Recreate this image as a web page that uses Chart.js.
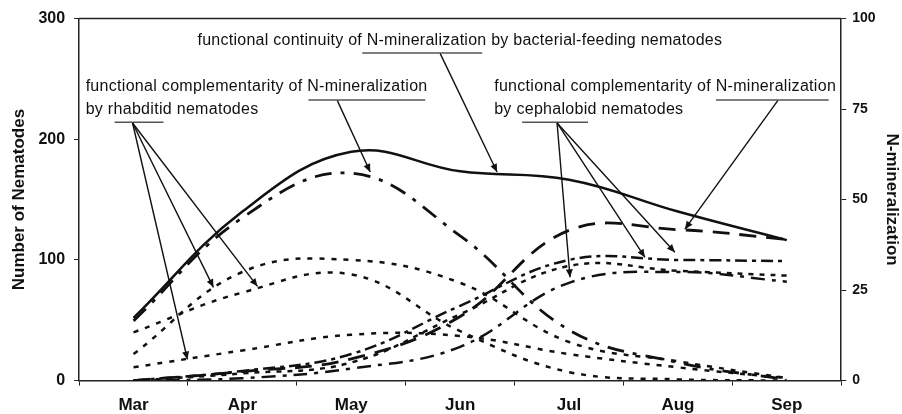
<!DOCTYPE html>
<html>
<head>
<meta charset="utf-8">
<script src="https://cdn.jsdelivr.net/npm/chart.js@4.4.1/dist/chart.umd.min.js"></script>
<style>
  html, body { margin: 0; padding: 0; background: #fff; }
  #wrap { width: 902px; height: 414px; position: relative; }
</style>
</head>
<body>
<div id="wrap"><canvas id="nemaChart"></canvas></div>
<script>
const months = ['Mar', 'Apr', 'May', 'Jun', 'Jul', 'Aug', 'Sep'];

// number of nematodes (left axis)
const rhabd1 = [22, 90, 100, 81, 32, 16, 2];
const rhabd2 = [40, 73, 88, 41, 7, 1, 0];
const rhabd3 = [11, 25, 38, 37, 22, 11, 2];
const cephal1 = [0, 8, 22, 62, 100, 100, 99];
const cephal2 = [0, 6, 15, 55, 95, 91, 87];
const cephal3 = [0, 2, 10, 28, 81, 90, 82];

// N-mineralization (right axis)
const nminTotal = [17.3, 46.7, 63.2, 57.8, 55.5, 46.7, 38.8];
const nminRhabd = [16.5, 45, 57.3, 40, 14, 5, 0.3];
const nminCephal = [0, 2.5, 6, 17.7, 41.5, 41.7, 39];

const leftTicks = [0, 100, 200, 300];
const rightTicks = [0, 25, 50, 75, 100];

// annotation texts, positions in data units (x = month index, y = left axis)
const noteTexts = [
  { lines: ['functional continuity of N-mineralization by bacterial-feeding nematodes'], x: 0.587, x2: 5.404, y: 281.5 },
  { lines: ['functional complementarity of N-mineralization', 'by rhabditid nematodes'], x: -0.440, x2: 2.697, y: 243.5 },
  { lines: ['functional complementarity of N-mineralization', 'by cephalobid nematodes'], x: 3.312, x2: 6.450, y: 243.5 }
];
const underlines = [
  [2.101, 3.202, 271.5],
  [1.606, 2.679, 232.5],
  [-0.174, 0.275, 214.2],
  [5.349, 6.385, 232.5],
  [3.569, 4.174, 214.2]
];
const arrows = [
  [2.817, 271.0, 3.339, 172.9],
  [1.872, 232.0, 2.174, 172.9],
  [-0.009, 213.5, 0.495, 17.5],
  [-0.009, 213.5, 0.734, 77.3],
  [-0.009, 213.5, 1.138, 78.1],
  [5.917, 232.0, 5.064, 125.5],
  [3.890, 213.5, 4.009, 85.6],
  [3.890, 213.5, 4.697, 102.2],
  [3.890, 213.5, 4.972, 106.4]
];

const notePlugin = {
  id: 'notes',
  afterDatasetsDraw(chart) {
    const { ctx, chartArea, scales } = chart;
    const px = v => scales.x.getPixelForValue(v);
    const py = v => scales.y.getPixelForValue(v);
    ctx.save();
    // top frame
    ctx.strokeStyle = '#222';
    ctx.lineWidth = 1.5;
    ctx.beginPath();
    ctx.moveTo(chartArea.left, chartArea.top);
    ctx.lineTo(chartArea.right, chartArea.top);
    ctx.stroke();

    // texts
    ctx.fillStyle = '#111';
    ctx.textBaseline = 'middle';
    ctx.font = '16px "Liberation Sans", Arial, sans-serif';
    noteTexts.forEach(n => {
      ctx.letterSpacing = '0px';
      const first = n.lines[0];
      const w = ctx.measureText(first).width;
      const target = px(n.x2) - px(n.x);
      const sp = (target - w) / (first.length - 1);
      ctx.letterSpacing = sp.toFixed(2) + 'px';
      n.lines.forEach((t, i) => {
        ctx.fillText(t, px(n.x), py(n.y) + i * 23);
      });
    });
    ctx.letterSpacing = '0px';

    // underlines
    ctx.strokeStyle = '#555';
    ctx.lineWidth = 1.5;
    underlines.forEach(u => {
      ctx.beginPath();
      ctx.moveTo(px(u[0]), py(u[2]));
      ctx.lineTo(px(u[1]), py(u[2]));
      ctx.stroke();
    });

    // arrows
    ctx.strokeStyle = '#111';
    ctx.fillStyle = '#111';
    ctx.lineWidth = 1.4;
    arrows.forEach(a => {
      const x1 = px(a[0]), y1 = py(a[1]), x2 = px(a[2]), y2 = py(a[3]);
      const ang = Math.atan2(y2 - y1, x2 - x1);
      ctx.beginPath();
      ctx.moveTo(x1, y1);
      ctx.lineTo(x2, y2);
      ctx.stroke();
      ctx.beginPath();
      ctx.moveTo(x2, y2);
      ctx.lineTo(x2 - 8 * Math.cos(ang) + 3.5 * Math.sin(ang), y2 - 8 * Math.sin(ang) - 3.5 * Math.cos(ang));
      ctx.lineTo(x2 - 8 * Math.cos(ang) - 3.5 * Math.sin(ang), y2 - 8 * Math.sin(ang) + 3.5 * Math.cos(ang));
      ctx.closePath();
      ctx.fill();
    });
    ctx.restore();
  }
};

const mkLine = (label, data, axis, dash, width) => ({
  label: label,
  data: data,
  yAxisID: axis,
  borderColor: '#111',
  borderWidth: width || 2.5,
  borderDash: dash,
  pointRadius: 0,
  tension: 0.4,
  fill: false
});

const ctx = document.getElementById('nemaChart').getContext('2d');
new Chart(ctx, {
  type: 'line',
  data: {
    labels: months,
    datasets: [
      mkLine('Rhabditid 1', rhabd1, 'y', [5, 7]),
      mkLine('Rhabditid 2', rhabd2, 'y', [5, 7]),
      mkLine('Rhabditid 3', rhabd3, 'y', [5, 7]),
      mkLine('Cephalobid 1', cephal1, 'y', [12, 5, 4, 5]),
      mkLine('Cephalobid 2', cephal2, 'y', [5, 6]),
      mkLine('Cephalobid 3', cephal3, 'y', [14, 7, 4, 7]),
      mkLine('N-min total', nminTotal, 'y1', [], 2.5),
      mkLine('N-min rhabditid', nminRhabd, 'y1', [17, 9, 4, 9], 2.8),
      mkLine('N-min cephalobid', nminCephal, 'y1', [17, 10], 2.8)
    ]
  },
  options: {
    responsive: true,
    maintainAspectRatio: false,
    animation: false,
    layout: { padding: { top: 16, left: 9, right: 0, bottom: -12 } },
    plugins: {
      legend: { display: false },
      tooltip: { enabled: false }
    },
    scales: {
      x: {
        type: 'category',
        offset: true,
        grid: { offset: true, drawOnChartArea: false, color: '#222', tickLength: 5 },
        border: { color: '#222', width: 1.5 },
        ticks: { color: '#111', padding: 10, font: { family: '"Liberation Sans", Arial', size: 17, weight: 'bold' } }
      },
      y: {
        position: 'left',
        min: 0,
        max: 300,
        afterBuildTicks: s => { s.ticks = leftTicks.map(v => ({ value: v })); },
        grid: { drawOnChartArea: false, color: '#222', tickLength: 5 },
        border: { color: '#222', width: 1.5 },
        ticks: { color: '#111', padding: 9, font: { family: '"Liberation Sans", Arial', size: 16, weight: 'bold' } },
        title: {
          display: true,
          text: 'Number of Nematodes',
          color: '#111',
          padding: { top: 0, bottom: 0 },
          font: { family: '"Liberation Sans", Arial', size: 17, weight: 'bold' }
        }
      },
      y1: {
        position: 'right',
        min: 0,
        max: 100,
        afterBuildTicks: s => { s.ticks = rightTicks.map(v => ({ value: v })); },
        grid: { drawOnChartArea: false, color: '#222', tickLength: 5 },
        border: { color: '#222', width: 1.5 },
        ticks: { color: '#111', padding: 6, font: { family: '"Liberation Sans", Arial', size: 14, weight: 'bold' } },
        title: {
          display: true,
          text: 'N-mineralization',
          color: '#111',
          padding: { top: 0, bottom: 0 },
          font: { family: '"Liberation Sans", Arial', size: 17, weight: 'bold' }
        }
      }
    }
  },
  plugins: [notePlugin]
});
</script>
</body>
</html>
